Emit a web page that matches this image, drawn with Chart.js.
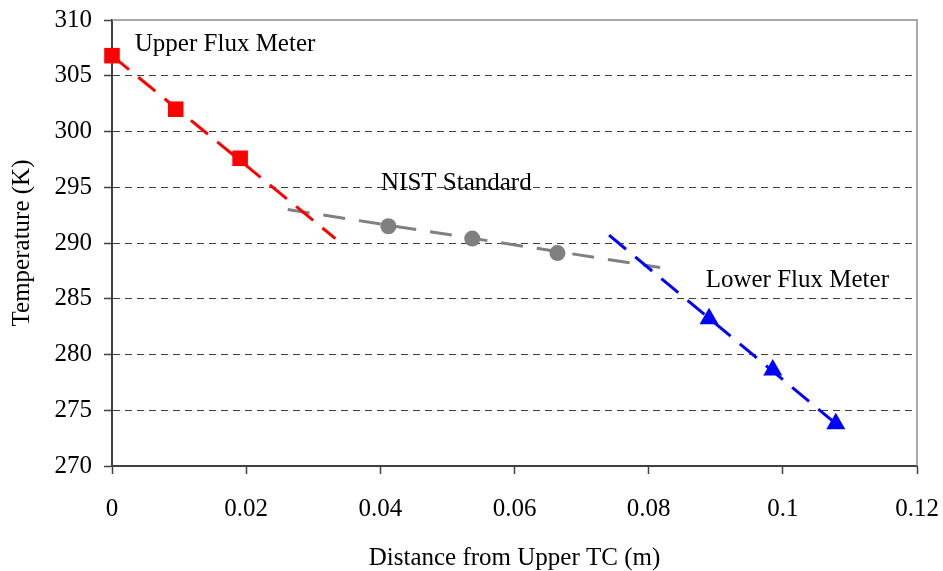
<!DOCTYPE html>
<html>
<head>
<meta charset="utf-8">
<script src="https://cdn.jsdelivr.net/npm/chart.js@4"></script>
<style>
  html, body { margin: 0; padding: 0; background: #fff; }
  #wrap { width: 943px; height: 571px; }
</style>
</head>
<body>
<div id="wrap"><canvas id="tempChart" width="943" height="571"></canvas></div>
<script>
// Measured temperatures along the stack (m, K)
const upperX = [0, 0.0095, 0.0191];
const upperT = [306.8, 302.0, 297.6];
const nistX = [0.0412, 0.0537, 0.0664];
const nistT = [291.5, 290.4, 289.1];
const lowerX = [0.0890, 0.0985, 0.1079];
const lowerT = [283.2, 278.6, 273.8];

// Linear fits through each section
const upperFitX = [0, 0.0333];
const upperFitT = [306.8, 290.4];
const nistFitX = [0.0262, 0.0817];
const nistFitT = [293.0, 287.8];
const lowerFitX = [0.0741, 0.1079];
const lowerFitT = [290.7, 273.8];

const xTickLabels = ['0', '0.02', '0.04', '0.06', '0.08', '0.1', '0.12'];
const yTickLabels = ['270', '275', '280', '285', '290', '295', '300', '305', '310'];

const sectionNames = ['Upper Flux Meter', 'NIST Standard', 'Lower Flux Meter'];
const sectionLabelX = [0.0034, 0.0401, 0.0885];
const sectionLabelT = [307.8, 295.3, 286.6];

const pts = (xs, ys) => xs.map((x, i) => ({ x: x, y: ys[i] }));

const serif = '"Liberation Serif", "Times New Roman", serif';

// frame on the top and right of the plot, plus the section captions
const framePlugin = {
  id: 'frame',
  afterDraw(chart) {
    const { ctx, chartArea: a, scales } = chart;
    ctx.save();
    ctx.strokeStyle = '#8c8c8c';
    ctx.lineWidth = 1.5;
    ctx.beginPath();
    ctx.moveTo(a.left, a.top);
    ctx.lineTo(a.right, a.top);
    ctx.lineTo(a.right, a.bottom);
    ctx.stroke();

    ctx.fillStyle = '#000';
    ctx.font = '25px ' + serif;
    ctx.textAlign = 'left';
    ctx.textBaseline = 'middle';
    sectionNames.forEach((name, i) => {
      ctx.fillText(name, scales.x.getPixelForValue(sectionLabelX[i]), scales.y.getPixelForValue(sectionLabelT[i]));
    });
    ctx.restore();
  }
};

const ctx = document.getElementById('tempChart').getContext('2d');
new Chart(ctx, {
  type: 'scatter',
  data: {
    datasets: [
      {
        label: 'Upper Flux Meter',
        data: pts(upperX, upperT),
        showLine: false,
        clip: false,
        pointStyle: 'rect',
        pointRadius: 11,
        backgroundColor: '#ff0000',
        borderColor: '#ff0000',
        borderWidth: 0
      },
      {
        label: 'NIST Standard',
        data: pts(nistX, nistT),
        showLine: false,
        clip: false,
        pointStyle: 'circle',
        pointRadius: 8,
        backgroundColor: '#808080',
        borderColor: '#808080',
        borderWidth: 0
      },
      {
        label: 'Lower Flux Meter',
        data: pts(lowerX, lowerT),
        showLine: false,
        clip: false,
        pointStyle: 'triangle',
        pointRadius: 11,
        backgroundColor: '#0000ff',
        borderColor: '#0000ff',
        borderWidth: 0
      },
      {
        label: 'Upper fit',
        data: pts(upperFitX, upperFitT),
        showLine: true,
        pointRadius: 0,
        borderColor: '#ff0000',
        borderWidth: 3,
        borderDash: [22, 12]
      },
      {
        label: 'Lower fit',
        data: pts(lowerFitX, lowerFitT),
        showLine: true,
        pointRadius: 0,
        borderColor: '#0000ff',
        borderWidth: 3,
        borderDash: [22, 12]
      },
      {
        label: 'NIST fit',
        data: pts(nistFitX, nistFitT),
        showLine: true,
        pointRadius: 0,
        borderColor: '#808080',
        borderWidth: 3,
        borderDash: [22, 14]
      }
    ]
  },
  options: {
    responsive: false,
    animation: false,
    layout: { padding: { top: 20, right: 26, left: 0, bottom: 0 } },
    plugins: {
      legend: { display: false },
      tooltip: { enabled: false }
    },
    scales: {
      x: {
        type: 'linear',
        min: 0,
        max: 0.12,
        afterFit(scale) {
          scale.height = 105;
          scale.paddingLeft = 0;
          scale.paddingRight = 0;
        },
        afterBuildTicks(scale) {
          scale.ticks = xTickLabels.map(t => ({ value: parseFloat(t) }));
        },
        ticks: {
          color: '#000',
          font: { family: serif, size: 25 },
          padding: 20,
          maxRotation: 0,
          callback: (v, i) => xTickLabels[i]
        },
        grid: {
          drawOnChartArea: false,
          drawTicks: true,
          tickLength: 8,
          tickColor: '#404040',
          tickWidth: 1.5
        },
        border: { display: true, color: '#404040', width: 2 },
        title: {
          display: true,
          text: 'Distance from Upper TC (m)',
          color: '#000',
          font: { family: serif, size: 25, lineHeight: 1 },
          padding: { top: 0, bottom: 0 }
        }
      },
      y: {
        type: 'linear',
        min: 270,
        max: 310,
        afterFit(scale) {
          scale.width = 112;
          scale.paddingTop = 0;
          scale.paddingBottom = 0;
        },
        afterBuildTicks(scale) {
          scale.ticks = yTickLabels.map(t => ({ value: parseFloat(t) }));
        },
        ticks: {
          color: '#000',
          font: { family: serif, size: 25 },
          padding: 12,
          callback: (v, i) => yTickLabels[i]
        },
        grid: {
          color: c => (c.tick && (c.tick.value === 270 || c.tick.value === 310)) ? 'rgba(0,0,0,0)' : '#404040',
          lineWidth: 1,
          tickLength: 8,
          tickColor: '#404040',
          tickWidth: 1.5
        },
        border: { display: true, color: '#404040', width: 2, dash: [7, 5] },
        title: {
          display: true,
          text: 'Temperature (K)',
          color: '#000',
          font: { family: serif, size: 25 },
          padding: { top: 7, bottom: 4 }
        }
      }
    }
  },
  plugins: [framePlugin]
});
</script>
</body>
</html>
